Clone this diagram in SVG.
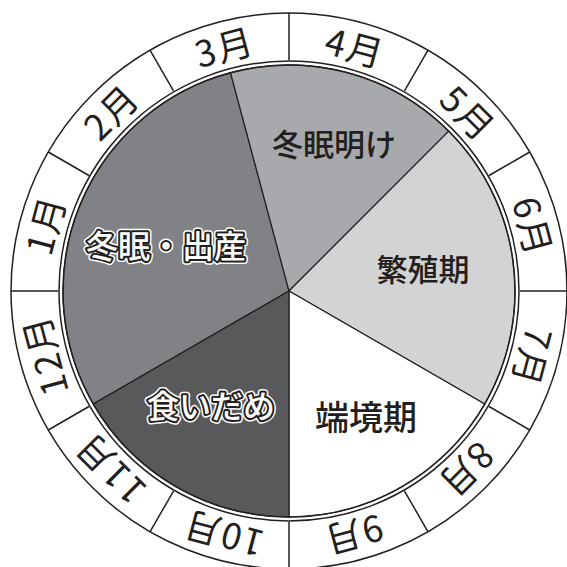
<svg xmlns="http://www.w3.org/2000/svg" width="567" height="567" viewBox="0 0 567 567">
<style>
.ln{fill:none;stroke:#231f20;stroke-width:1.5}
.sec{stroke:#231f20;stroke-width:1.2}
.mon{font-family:"Noto Sans CJK JP","Noto Sans",sans-serif;font-size:36px;fill:#231f20;text-anchor:middle;font-weight:400;letter-spacing:2px}
.lab{font-family:"Noto Sans CJK JP","Noto Sans",sans-serif;fill:#231f20;text-anchor:middle;font-weight:500}
.halo{stroke:#ffffff;stroke-width:7;stroke-linejoin:round;fill:#ffffff}
.out{stroke:#231f20;stroke-width:4;stroke-linejoin:round;fill:#ffffff;paint-order:stroke}
</style>
<rect width="567" height="567" fill="#ffffff"/>
<g id="ring">
<circle class="ln" cx="289" cy="291" r="278"/>
<circle class="ln" cx="289" cy="291" r="230"/>
</g>
<g id="pie">
<path id="s-kaminsho" class="sec" fill="#808285" d="M289,291 L93.28,404 A226,226 0 0 1 230.51,72.70 Z"/>
<path id="s-akeke" class="sec" fill="#a7a9ac" d="M289,291 L230.51,72.70 A226,226 0 0 1 448.81,131.19 Z"/>
<path id="s-hanshoku" class="sec" fill="#d1d3d4" d="M289,291 L448.81,131.19 A226,226 0 0 1 484.72,404 Z"/>
<path id="s-hazakai" class="sec" fill="#ffffff" d="M289,291 L484.72,404 A226,226 0 0 1 289,517 Z"/>
<path id="s-kuidame" class="sec" fill="#58595b" d="M289,291 L289,517 A226,226 0 0 1 93.28,404 Z"/>
<circle class="ln" cx="289" cy="291" r="226"/>
</g>
<g id="connectors">
<line class="ln" x1="289" y1="60" x2="289" y2="13" transform="rotate(0 289 291)"/>
<line class="ln" x1="289" y1="60" x2="289" y2="13" transform="rotate(30 289 291)"/>
<line class="ln" x1="289" y1="60" x2="289" y2="13" transform="rotate(60 289 291)"/>
<line class="ln" x1="289" y1="60" x2="289" y2="13" transform="rotate(90 289 291)"/>
<line class="ln" x1="289" y1="60" x2="289" y2="13" transform="rotate(120 289 291)"/>
<line class="ln" x1="289" y1="60" x2="289" y2="13" transform="rotate(150 289 291)"/>
<line class="ln" x1="289" y1="60" x2="289" y2="13" transform="rotate(180 289 291)"/>
<line class="ln" x1="289" y1="60" x2="289" y2="13" transform="rotate(210 289 291)"/>
<line class="ln" x1="289" y1="60" x2="289" y2="13" transform="rotate(240 289 291)"/>
<line class="ln" x1="289" y1="60" x2="289" y2="13" transform="rotate(270 289 291)"/>
<line class="ln" x1="289" y1="60" x2="289" y2="13" transform="rotate(300 289 291)"/>
<line class="ln" x1="289" y1="60" x2="289" y2="13" transform="rotate(330 289 291)"/>
</g>
<g id="months">
<g id="m4"><text class="mon" x="290" y="52.5" transform="rotate(15 289 291)">4月</text></g>
<g id="m5"><text class="mon" x="290" y="52.5" transform="rotate(45 289 291)">5月</text></g>
<g id="m6"><text class="mon" x="290" y="52.5" transform="rotate(75 289 291)">6月</text></g>
<g id="m7"><text class="mon" x="290" y="52.5" transform="rotate(105 289 291)">7月</text></g>
<g id="m8"><text class="mon" x="290" y="52.5" transform="rotate(135 289 291)">8月</text></g>
<g id="m9"><text class="mon" x="290" y="52.5" transform="rotate(165 289 291)">9月</text></g>
<g id="m10"><text class="mon" x="290" y="52.5" transform="rotate(195 289 291)">10月</text></g>
<g id="m11"><text class="mon" x="290" y="52.5" transform="rotate(225 289 291)">11月</text></g>
<g id="m12"><text class="mon" x="290" y="52.5" transform="rotate(255 289 291)">12月</text></g>
<g id="m1"><text class="mon" x="290" y="52.5" transform="rotate(285 289 291)">1月</text></g>
<g id="m2"><text class="mon" x="290" y="52.5" transform="rotate(315 289 291)">2月</text></g>
<g id="m3"><text class="mon" x="290" y="52.5" transform="rotate(345 289 291)">3月</text></g>
</g>
<g id="labels">
<g id="l-akeke"><text class="lab" x="334" y="156" font-size="31">冬眠明け</text></g>
<g id="l-hanshoku"><text class="lab" x="423" y="281" font-size="31">繁殖期</text></g>
<g id="l-hazakai"><text class="lab" x="366" y="430" font-size="34">端境期</text></g>
<g id="l-kaminsho">
<text class="lab halo" x="166" y="258" font-size="32">冬眠・出産</text>
<text class="lab out" x="166" y="258" font-size="32">冬眠・出産</text>
</g>
<g id="l-kuidame">
<text class="lab halo" x="211" y="418" font-size="32">食いだめ</text>
<text class="lab out" x="211" y="418" font-size="32">食いだめ</text>
</g>
</g>
</svg>
